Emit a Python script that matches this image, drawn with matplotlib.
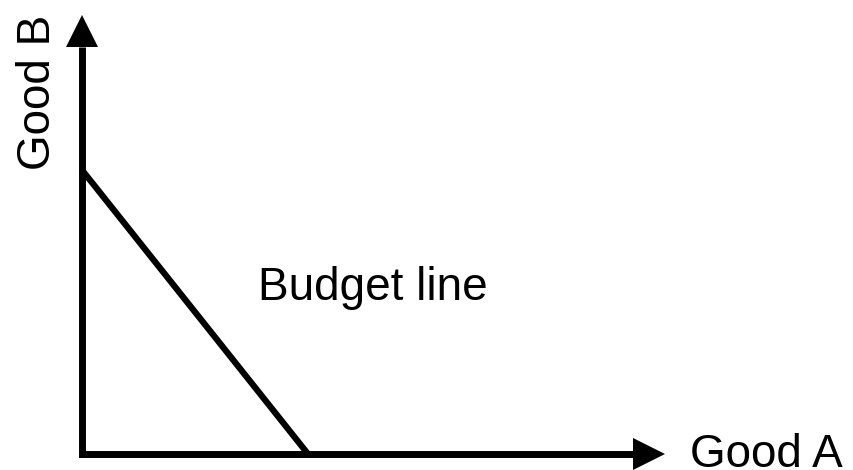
import numpy as np
import matplotlib
matplotlib.use('Agg')
import matplotlib.pyplot as plt

plt.rcParams['font.family'] = ['Liberation Sans', 'DejaVu Sans']

# budget line intercepts (in drawing units)
budget_good_a = 226
budget_good_b = 284

# axis lengths up to the arrow tips
axis_a_tip = 583
axis_b_tip = 439
head_len = 32
head_half = 16

x_label = 'Good A'
y_label = 'Good B'
line_label = 'Budget line'

fig = plt.figure(figsize=(8.54, 4.70), dpi=100)
ax = fig.add_axes([0, 0, 1, 1])
ax.set_xlim(-82, 772)
ax.set_ylim(-16, 454)
ax.axis('off')

# axes as one polyline so the corner is square
ax.plot([0, 0, axis_a_tip - head_len], [axis_b_tip - head_len, 0, 0],
        color='black', lw=5.0, solid_joinstyle='miter', solid_capstyle='butt')

# arrow heads
ax.fill([-head_half, head_half, 0], [axis_b_tip - head_len] * 2 + [axis_b_tip],
        color='black', lw=0)
ax.fill([axis_a_tip - head_len] * 2 + [axis_a_tip], [-head_half, head_half, 0],
        color='black', lw=0)

# budget line
ax.plot([0, budget_good_a], [budget_good_b, 0], color='black', lw=4.5,
        solid_capstyle='butt')

ax.text(608, -13, x_label, fontsize=33, ha='left', va='baseline')
ax.text(-32, 284, y_label, fontsize=33, ha='left', va='baseline',
        rotation=90, rotation_mode='anchor')
ax.text(176, 154, line_label, fontsize=33, ha='left', va='baseline')

fig.savefig('out.png', dpi=100)
